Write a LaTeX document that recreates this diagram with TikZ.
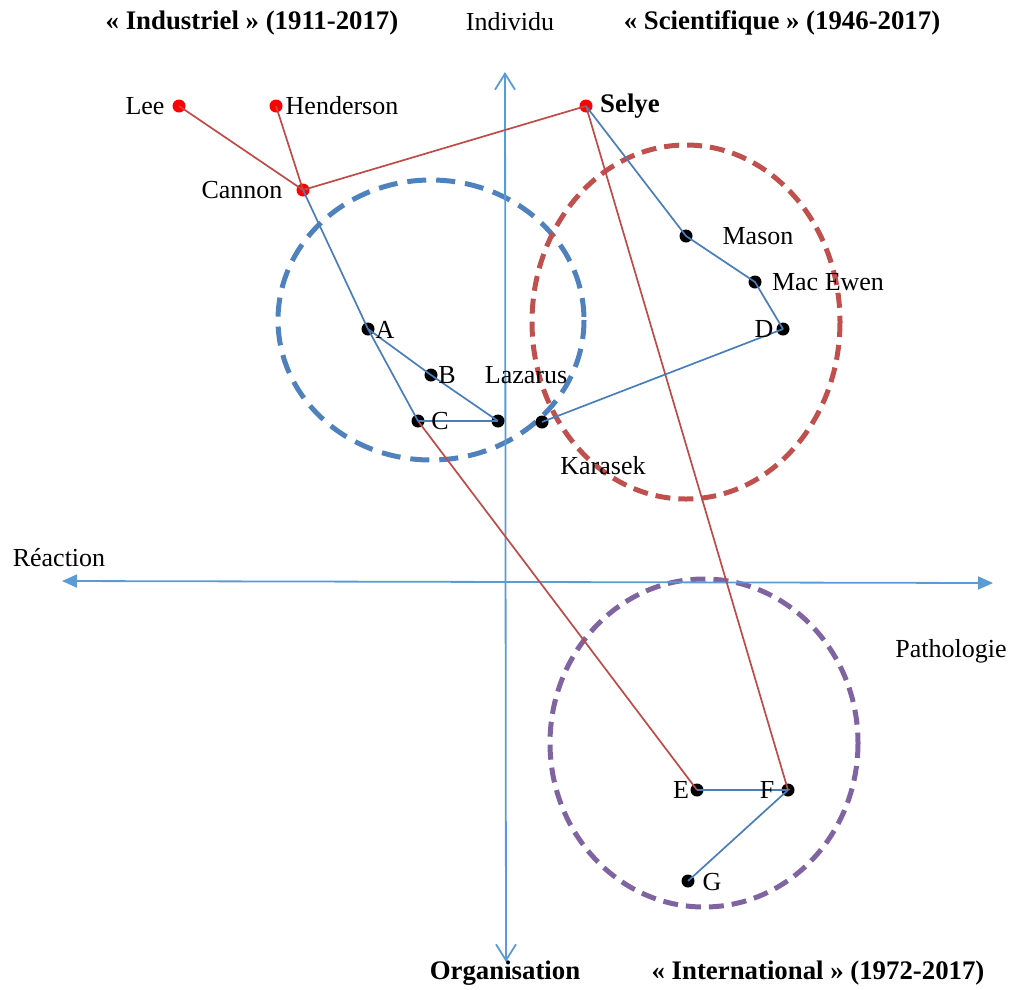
\documentclass[tikz,border=0pt]{standalone}
\usepackage{fontspec}
\setmainfont{Liberation Serif}
\usetikzlibrary{arrows.meta}
\definecolor{axisblue}{HTML}{5B9BD5}
\definecolor{lineblue}{HTML}{4A7EBB}
\definecolor{linered}{HTML}{BE4B48}
\definecolor{circblue}{HTML}{4F81BD}
\definecolor{circred}{HTML}{C0504D}
\definecolor{circpurple}{HTML}{8064A2}
\tikzset{
  lbl/.style={font=\fontsize{26}{30}\selectfont, inner sep=0pt},
  ttl/.style={font=\fontsize{26.8}{30}\selectfont\bfseries, inner sep=0pt},
  bdot/.style={circle, fill=black, minimum size=13pt, inner sep=0pt},
  rdot/.style={circle, fill=red, minimum size=13pt, inner sep=0pt},
  bline/.style={lineblue, line width=1.7pt},
  rline/.style={linered, line width=1.7pt},
  axisline/.style={axisblue, line width=1.8pt},
  dring/.style={line width=5pt, dash pattern=on 15pt off 8pt},
}
\begin{document}
\begin{tikzpicture}[x=1pt,y=-1pt]
\useasboundingbox (0,0) rectangle (1011,989);
% circles
\draw[dring, circblue, dash pattern=on 19pt off 10pt] (431,320) ellipse [x radius=153, y radius=140];
\draw[dring, circred] (686,322) ellipse [x radius=154, y radius=177];
\draw[dring, circpurple] (704,743) ellipse [x radius=154, y radius=164];
% axes
\coordinate (hl) at (62,581);
\coordinate (hr) at (993,583);
\coordinate (vt) at (505,72);
\coordinate (vb) at (506,962);
\draw[axisline, {Triangle[length=15pt,width=13pt]}-{Triangle[length=15pt,width=13pt]}] (hl) -- (hr);
\draw[axisline, {Straight Barb[length=16pt,width=20pt]}-{Straight Barb[length=16pt,width=20pt]}] (vt) -- (vb);
% points
\node[rdot] (lee) at (179,106) {};
\node[rdot] (hen) at (276,106) {};
\node[rdot] (can) at (303,190) {};
\node[rdot] (sel) at (586,106) {};
\node[bdot] (A) at (368,329) {};
\node[bdot] (B) at (431,375) {};
\node[bdot] (C) at (418,421) {};
\node[bdot] (laz) at (498,421) {};
\node[bdot] (kar) at (542,422) {};
\node[bdot] (mas) at (686,236) {};
\node[bdot] (mac) at (755,282) {};
\node[bdot] (D) at (783,329) {};
\node[bdot] (E) at (697,790) {};
\node[bdot] (F) at (788,790) {};
\node[bdot] (G) at (688,881) {};
% red connectors
\draw[rline] (lee.center) -- (can.center);
\draw[rline] (hen.center) -- (can.center);
\draw[rline] (can.center) -- (sel.center);
\draw[rline] (sel.center) -- (F.center);
\draw[rline] (C.center) -- (E.center);
% blue connectors
\draw[bline] (can.center) -- (A.center);
\draw[bline] (A.center) -- (C.center);
\draw[bline] (A.center) -- (B.center) -- (laz.center);
\draw[bline] (C.center) -- (laz.center);
\draw[bline] (kar.center) -- (D.center);
\draw[bline] (sel.center) -- (mas.center) -- (mac.center) -- (D.center);
\draw[bline] (E.center) -- (F.center) -- (G.center);
% labels
\node[lbl] (tlee) at (145,106) {Lee};
\node[lbl] (then) at (342,106) {Henderson};
\node[lbl] (tcan) at (242,190) {Cannon};
\node[ttl] (tsel) at (630,106) {Selye};
\node[lbl] (tA) at (385,330) {A};
\node[lbl] (tB) at (447,375) {B};
\node[lbl] (tC) at (440,421) {C};
\node[lbl] (tlaz) at (526,375) {Lazarus};
\node[lbl] (tkar) at (603,466) {Karasek};
\node[lbl] (tmas) at (758,236) {Mason};
\node[lbl] (tmac) at (828,282) {Mac Ewen};
\node[lbl] (tD) at (764,329) {D};
\node[lbl] (tE) at (681,790) {E};
\node[lbl] (tF) at (767,790) {F};
\node[lbl] (tG) at (712,882) {G};
% axis / titles
\node[lbl] (treac) at (59,558) {Réaction};
\node[lbl] (tpath) at (951,651) {Pathologie};
\node[lbl] (tind) at (510,22) {Individu};
\node[ttl] (torg) at (505,973) {Organisation};
\node[ttl] (tindus) at (252,23) {« Industriel » (1911-2017)};
\node[ttl] (tsci) at (782,23) {« Scientifique » (1946-2017)};
\node[ttl] (tint) at (818,973) {« International » (1972-2017)};
\end{tikzpicture}
\end{document}
